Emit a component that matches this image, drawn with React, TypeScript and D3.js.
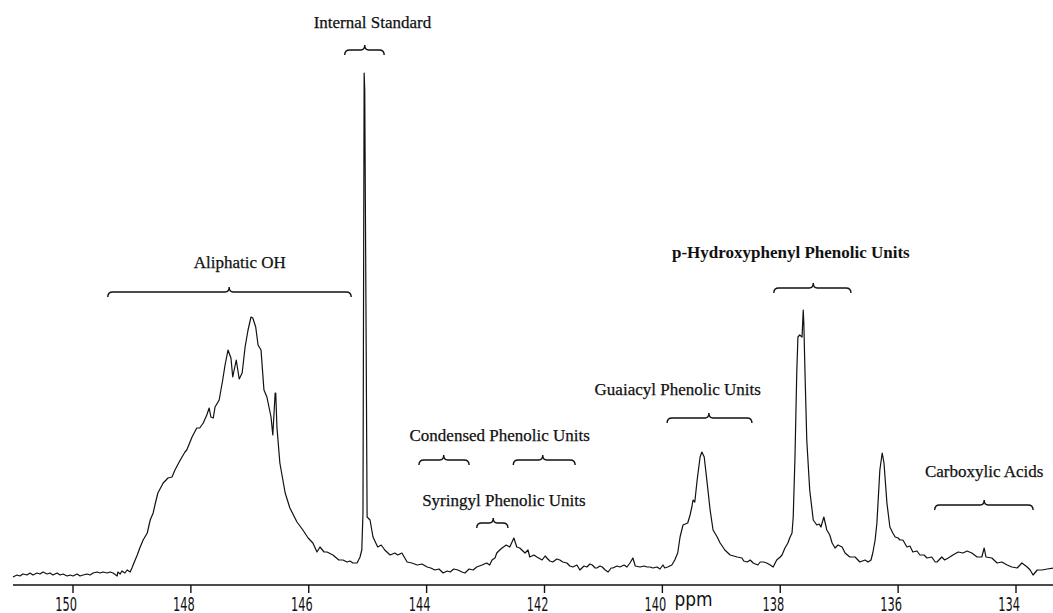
import React from 'react';
import * as d3 from 'd3';

const W = 1053;
const H = 613;

// [ppm, relative intensity], left to right
const baselineLow: [number, number][] = [
  [151.02, 1.6], [150.95, 2.0], [150.9, 1.8], [150.85, 2.2], [150.78, 2.0], [150.73, 2.4],
  [150.68, 2.0], [150.61, 2.4], [150.56, 2.2], [150.51, 2.6], [150.44, 2.2], [150.39, 2.4],
  [150.34, 2.0], [150.27, 2.4], [150.22, 2.0], [150.17, 2.2], [150.1, 1.8], [150.05, 2.0],
  [150.0, 1.8], [149.93, 2.2], [149.88, 1.8], [149.83, 2.0], [149.76, 2.2], [149.71, 2.0],
  [149.66, 2.4], [149.59, 2.6], [149.54, 2.4], [149.49, 2.6], [149.42, 2.4], [149.37, 2.6],
  [149.32, 2.4], [149.25, 1.8], [149.24, 2.6], [149.2, 2.2], [149.17, 2.8], [149.12, 2.4],
  [149.08, 3.0], [149.03, 2.6],
];

const aliphatic: [number, number][] = [
  [149.0, 3.4], [148.98, 4.0], [148.91, 6.0], [148.86, 7.6], [148.81, 9.0], [148.74, 10.4],
  [148.69, 13.0], [148.64, 14.4], [148.61, 16.0], [148.56, 18.4], [148.47, 20.4], [148.42, 21.0],
  [148.39, 21.4], [148.32, 21.6], [148.27, 23.0], [148.18, 25.0], [148.1, 26.6], [148.07, 27.0],
  [147.98, 29.6], [147.9, 31.4], [147.85, 31.4], [147.79, 32.4], [147.73, 34.0], [147.69, 35.4],
  [147.66, 33.6], [147.62, 33.4], [147.59, 35.6], [147.52, 37.0], [147.46, 41.0], [147.42, 44.0],
  [147.37, 47.0], [147.32, 45.4], [147.29, 41.6], [147.23, 45.0], [147.18, 41.2], [147.13, 42.4],
  [147.08, 47.6], [147.03, 51.0], [146.98, 53.6], [146.95, 53.4], [146.9, 51.6], [146.86, 48.0],
  [146.81, 47.0], [146.76, 39.0], [146.71, 37.6], [146.64, 33.6], [146.61, 30.0], [146.57, 38.4],
  [146.56, 38.4], [146.54, 31.6], [146.49, 24.4], [146.4, 18.4], [146.32, 15.4], [146.2, 12.6],
  [146.1, 11.0], [146.01, 9.4], [145.93, 8.4], [145.86, 6.6], [145.81, 7.6], [145.74, 6.6],
  [145.69, 6.6], [145.59, 6.0], [145.49, 5.0], [145.42, 5.0], [145.35, 4.6], [145.3, 4.8],
  [145.25, 4.4], [145.18, 4.4], [145.13, 5.6],
];

const standard: [number, number][] = [
  [145.1, 7.0], [145.08, 14.4], [145.06, 102.4], [145.05, 99.0], [145.03, 57.0], [145.01, 13.6],
  [144.96, 13.0], [144.91, 9.6], [144.83, 7.6], [144.77, 8.0], [144.71, 7.0], [144.62, 6.0],
  [144.54, 6.4], [144.49, 6.0], [144.42, 6.4], [144.33, 4.6], [144.25, 4.4], [144.16, 4.0],
];

const condensed: [number, number][] = [
  [144.08, 4.2], [143.99, 3.6], [143.93, 3.4], [143.86, 3.0], [143.79, 3.2], [143.72, 2.4],
  [143.65, 2.8], [143.6, 2.6], [143.54, 3.2], [143.47, 3.0], [143.4, 2.6], [143.35, 2.4],
  [143.28, 3.2], [143.21, 3.0], [143.15, 3.6], [143.06, 4.0], [142.98, 4.4], [142.93, 4.0],
  [142.89, 5.0], [142.84, 5.4], [142.81, 6.4], [142.76, 7.0], [142.72, 7.4], [142.65, 8.0],
  [142.59, 7.6], [142.52, 9.4], [142.47, 7.6], [142.42, 7.4], [142.33, 6.4], [142.28, 7.0],
  [142.25, 5.6], [142.18, 6.0], [142.13, 5.6], [142.04, 5.0], [141.99, 5.8], [141.96, 5.4],
  [141.91, 4.8], [141.86, 4.6], [141.79, 5.2], [141.74, 5.0], [141.69, 4.6], [141.62, 4.4],
  [141.57, 3.8], [141.52, 3.6], [141.45, 4.0], [141.4, 3.0], [141.33, 3.8], [141.28, 3.6],
  [141.23, 4.2], [141.19, 4.0], [141.14, 3.4], [141.11, 3.4], [141.06, 3.8], [141.02, 3.6],
  [140.97, 3.0], [140.92, 2.6], [140.87, 3.4], [140.84, 3.4], [140.77, 3.8], [140.72, 3.6],
  [140.65, 4.0], [140.6, 3.6], [140.55, 4.4], [140.5, 5.4], [140.46, 3.8], [140.38, 3.6],
  [140.31, 3.8], [140.26, 3.6], [140.21, 3.6], [140.16, 3.4], [140.09, 3.6], [140.04, 3.2],
];

const guaiacyl: [number, number][] = [
  [139.99, 4.0], [139.96, 3.4], [139.91, 3.6], [139.84, 4.0], [139.79, 5.0], [139.74, 6.4],
  [139.7, 9.6], [139.65, 12.0], [139.57, 12.4], [139.53, 14.0], [139.5, 15.6], [139.48, 17.0],
  [139.45, 16.6], [139.41, 21.0], [139.36, 25.6], [139.33, 26.6], [139.29, 25.6], [139.24, 20.4],
  [139.19, 15.0], [139.14, 11.0], [139.07, 9.6], [139.02, 8.4], [138.94, 7.0], [138.85, 6.0],
  [138.79, 5.8], [138.73, 5.6], [138.65, 5.4], [138.62, 4.8], [138.56, 4.6], [138.51, 5.0],
  [138.46, 4.4], [138.38, 4.0], [138.34, 4.6], [138.28, 4.6], [138.23, 4.4], [138.17, 4.0],
  [138.12, 3.6],
];

const hydroxyphenyl: [number, number][] = [
  [138.06, 5.0], [138.0, 5.6], [137.97, 6.0], [137.92, 7.4], [137.87, 8.4], [137.84, 9.4],
  [137.8, 10.4], [137.78, 13.6], [137.75, 25.6], [137.72, 42.4], [137.7, 49.6], [137.67, 50.0],
  [137.63, 49.6], [137.61, 55.0], [137.6, 52.4], [137.58, 42.4], [137.55, 29.0], [137.5, 19.0],
  [137.44, 13.0], [137.38, 12.0], [137.34, 12.2], [137.31, 11.6], [137.26, 13.6], [137.21, 11.0],
  [137.16, 10.0], [137.12, 8.4], [137.07, 7.4], [137.02, 8.0], [136.95, 7.6], [136.9, 6.4],
  [136.82, 5.6], [136.73, 5.6], [136.65, 4.6], [136.56, 5.0], [136.51, 4.6], [136.46, 5.0],
  [136.43, 6.4], [136.39, 9.0], [136.36, 12.4], [136.31, 23.0], [136.27, 26.4], [136.24, 24.4],
  [136.19, 16.4], [136.14, 11.6], [136.09, 10.4], [136.05, 9.6], [136.0, 9.4],
];

const carboxylic: [number, number][] = [
  [135.97, 9.0], [135.92, 9.0], [135.85, 7.6], [135.8, 7.8], [135.75, 6.6], [135.68, 6.8],
  [135.63, 6.0], [135.56, 6.0], [135.51, 5.4], [135.43, 5.6], [135.37, 4.6], [135.34, 4.6],
  [135.26, 5.6], [135.21, 5.0], [135.15, 5.4], [135.07, 6.0], [134.98, 6.6], [134.9, 6.4],
  [134.83, 6.8], [134.75, 6.4], [134.66, 5.6], [134.58, 5.6], [134.54, 7.4], [134.51, 5.6],
  [134.41, 5.4], [134.32, 4.4], [134.24, 4.6], [134.15, 4.0], [134.07, 3.6], [133.98, 3.4],
  [133.9, 4.4], [133.81, 3.6], [133.76, 3.0], [133.71, 2.0], [133.64, 3.0], [133.56, 3.0],
  [133.47, 3.2], [133.37, 3.4],
];

const spectrum = [
  ...baselineLow, ...aliphatic, ...standard, ...condensed,
  ...guaiacyl, ...hydroxyphenyl, ...carboxylic,
];

const tickValues = [150, 148, 146, 144, 142, 140, 138, 136, 134];

// brace ranges in ppm, level in intensity units
const braceFrom = [145.39, 149.41, 138.11, 139.92, 135.38, 144.13, 142.53, 143.15];
const braceTo = [144.72, 145.28, 136.8, 138.48, 133.71, 143.28, 141.48, 142.62];
const braceTip = [145.05, 147.35, 137.44, 139.21, 134.54, 143.71, 142.03, 142.87];
const braceLevel = [107, 58.6, 59.4, 33.4, 16, 25, 25, 12.4];

const labelText = [
  'Internal Standard', 'Aliphatic OH', 'p-Hydroxyphenyl Phenolic Units',
  'Guaiacyl Phenolic Units', 'Carboxylic Acids', 'Condensed Phenolic Units',
  'Syringyl Phenolic Units',
];
const labelAt = [144.92, 147.17, 137.82, 139.74, 134.54, 142.76, 142.69];
const labelLevel = [111.4, 63.4, 65.4, 38, 21.6, 28.8, 15.8];

const x = d3.scaleLinear().domain([150, 134]).range([73, 1016]);
const y = d3.scaleLinear().domain([0, 103]).range([585, 70]);

const line = d3
  .line<[number, number]>()
  .x((d) => x(d[0]))
  .y((d) => y(d[1]));

function bracePath(x1: number, x2: number, xm: number, yy: number) {
  const p = d3.path();
  p.moveTo(x1, yy + 5);
  p.quadraticCurveTo(x1, yy, x1 + 5, yy);
  p.lineTo(xm - 4, yy);
  p.quadraticCurveTo(xm, yy, xm, yy - 5);
  p.quadraticCurveTo(xm, yy, xm + 4, yy);
  p.lineTo(x2 - 5, yy);
  p.quadraticCurveTo(x2, yy, x2, yy + 5);
  return p.toString();
}

export default function App() {
  const serif = "'Liberation Serif', 'Times New Roman', serif";
  return (
    <svg
      width={W}
      height={H}
      style={{ position: 'absolute', left: 0, top: 0, background: '#fff' }}
    >
      <path d={line(spectrum) || ''} fill="none" stroke="#111" strokeWidth={1.2} strokeLinejoin="round" />

      {/* axis */}
      <line x1={13} x2={W} y1={585} y2={585} stroke="#111" strokeWidth={1.6} />
      {tickValues.map((t) => (
        <g key={t}>
          <line x1={x(t)} x2={x(t)} y1={585} y2={593} stroke="#111" strokeWidth={1.4} />
          <text
            transform={`translate(${x(t) - 7},611) scale(0.6,1)`}
            textAnchor="middle"
            fontFamily="'DejaVu Sans', sans-serif"
            fontSize={19}
            fill="#111"
          >
            {t}
          </text>
        </g>
      ))}
      <text
        transform={`translate(${x(140) + 12},606) scale(0.85,1)`}
        fontFamily="'DejaVu Sans', sans-serif"
        fontSize={20}
        fill="#111"
      >
        ppm
      </text>

      {/* braces */}
      {braceFrom.map((f, i) => (
        <path
          key={i}
          d={bracePath(x(f), x(braceTo[i]), x(braceTip[i]), y(braceLevel[i]))}
          fill="none"
          stroke="#111"
          strokeWidth={1.4}
        />
      ))}

      {/* labels */}
      {labelText.map((t, i) => (
        <text
          key={t}
          x={x(labelAt[i])}
          y={y(labelLevel[i])}
          textAnchor="middle"
          fontFamily={serif}
          fontSize={17}
          fontWeight={i === 2 ? 'bold' : 'normal'}
          fill="#111"
          stroke="#111"
          strokeWidth={i === 2 ? 0 : 0.25}
        >
          {t}
        </text>
      ))}
    </svg>
  );
}
